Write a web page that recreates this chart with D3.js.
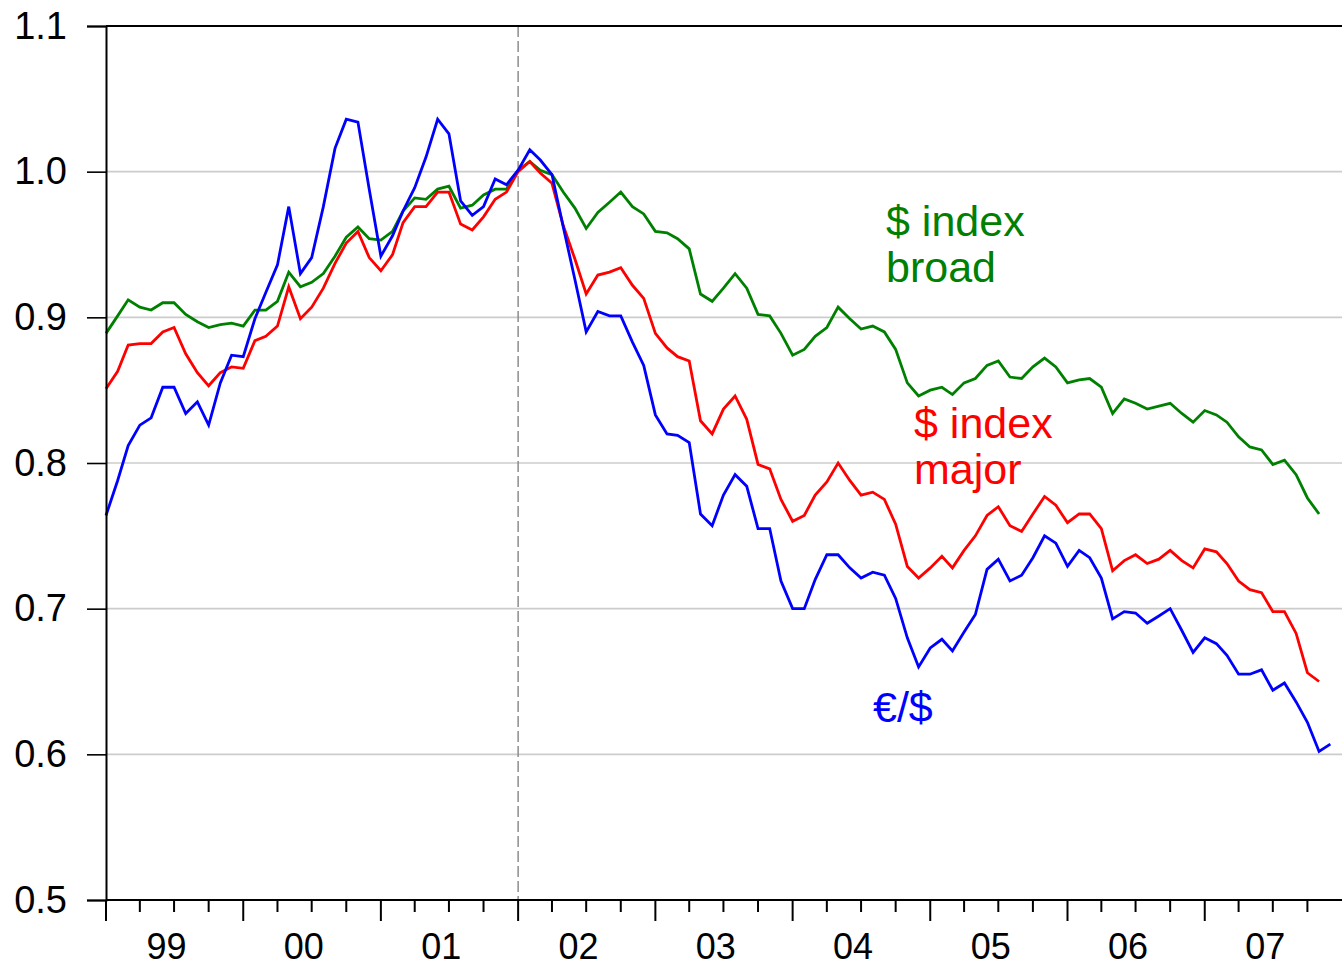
<!DOCTYPE html>
<html>
<head>
<meta charset="utf-8">
<script src="https://cdn.jsdelivr.net/npm/d3@7"></script>
<style>
  body { margin: 0; background: #fff; }
  svg { display: block; font-family: Arial, "Liberation Sans", sans-serif; }
</style>
</head>
<body>
<div id="chart"></div>
<script>
// monthly values, Jan 1999 onwards
const euroDollar = [0.764, 0.788, 0.812, 0.826, 0.831, 0.852, 0.852, 0.834, 0.842, 0.826, 0.855, 0.874,
  0.873, 0.899, 0.917, 0.936, 0.976, 0.930, 0.941, 0.976, 1.016, 1.036, 1.034, 0.988,
  0.942, 0.956, 0.973, 0.989, 1.010, 1.036, 1.026, 0.980, 0.970, 0.976, 0.995, 0.991,
  1.001, 1.015, 1.008, 0.998, 0.962, 0.926, 0.890, 0.904, 0.901, 0.901, 0.883, 0.867,
  0.833, 0.820, 0.819, 0.814, 0.765, 0.757, 0.778, 0.792, 0.784, 0.755, 0.755, 0.719,
  0.700, 0.700, 0.720, 0.737, 0.737, 0.728, 0.721, 0.725, 0.723, 0.707, 0.680, 0.660,
  0.673, 0.679, 0.671, 0.684, 0.696, 0.727, 0.734, 0.719, 0.723, 0.735, 0.750, 0.745,
  0.729, 0.740, 0.735, 0.721, 0.693, 0.698, 0.697, 0.690, 0.695, 0.700, 0.685, 0.670,
  0.680, 0.676, 0.668, 0.655, 0.655, 0.658, 0.644, 0.649, 0.636, 0.622, 0.602, 0.607];

const indexMajor = [0.851, 0.863, 0.881, 0.882, 0.882, 0.890, 0.893, 0.875, 0.862, 0.853, 0.862, 0.866,
  0.865, 0.884, 0.887, 0.894, 0.921, 0.899, 0.907, 0.920, 0.937, 0.951, 0.959, 0.941,
  0.932, 0.943, 0.965, 0.976, 0.976, 0.986, 0.986, 0.964, 0.960, 0.969, 0.981, 0.986,
  1.000, 1.007, 0.999, 0.992, 0.963, 0.940, 0.916, 0.929, 0.931, 0.934, 0.922, 0.913,
  0.889, 0.879, 0.873, 0.870, 0.829, 0.820, 0.837, 0.846, 0.830, 0.799, 0.796, 0.775,
  0.760, 0.764, 0.778, 0.787, 0.800, 0.788, 0.778, 0.780, 0.775, 0.758, 0.729, 0.721,
  0.728, 0.736, 0.728, 0.740, 0.750, 0.764, 0.770, 0.757, 0.753, 0.765, 0.777, 0.771,
  0.759, 0.765, 0.765, 0.755, 0.726, 0.733, 0.737, 0.731, 0.734, 0.740, 0.733, 0.728,
  0.741, 0.739, 0.731, 0.719, 0.713, 0.711, 0.698, 0.698, 0.683, 0.656, 0.650];

const indexBroad = [0.889, 0.901, 0.912, 0.907, 0.905, 0.910, 0.910, 0.902, 0.897, 0.893, 0.895, 0.896,
  0.894, 0.905, 0.905, 0.911, 0.931, 0.921, 0.924, 0.930, 0.942, 0.955, 0.962, 0.954,
  0.953, 0.959, 0.973, 0.982, 0.981, 0.988, 0.990, 0.975, 0.977, 0.984, 0.988, 0.988,
  1.001, 1.007, 1.001, 0.998, 0.986, 0.975, 0.961, 0.972, 0.979, 0.986, 0.976, 0.971,
  0.959, 0.958, 0.954, 0.947, 0.916, 0.911, 0.920, 0.930, 0.920, 0.902, 0.901, 0.889,
  0.874, 0.878, 0.887, 0.893, 0.907, 0.899, 0.892, 0.894, 0.890, 0.878, 0.855, 0.846,
  0.850, 0.852, 0.847, 0.855, 0.858, 0.867, 0.870, 0.859, 0.858, 0.866, 0.872, 0.866,
  0.855, 0.857, 0.858, 0.852, 0.834, 0.844, 0.841, 0.837, 0.839, 0.841, 0.834, 0.828,
  0.836, 0.833, 0.828, 0.818, 0.811, 0.809, 0.799, 0.802, 0.792, 0.776, 0.765];

const years = [1999, 2000, 2001, 2002, 2003, 2004, 2005, 2006, 2007];
const yearLabels = ["99", "00", "01", "02", "03", "04", "05", "06", "07"];
const yTicks = [0.5, 0.6, 0.7, 0.8, 0.9, 1.0, 1.1];
const gridTicks = [0.6, 0.7, 0.8, 0.9, 1.0];
const breakDate = new Date(2002, 0, 1);

const series = [
  { name: "$ index broad", values: indexBroad, color: "#008000" },
  { name: "$ index major", values: indexMajor, color: "#ff0000" },
  { name: "€/$", values: euroDollar, color: "#0000ff" }
];

const W = 1342, H = 967;
const margin = { top: 26, right: 0, bottom: 67, left: 106 };

const svg = d3.select("#chart").append("svg")
  .attr("width", W)
  .attr("height", H);

const x = d3.scaleTime()
  .domain([new Date(1999, 0, 1), new Date(2008, 0, 1)])
  .range([margin.left, W - margin.right]);

const y = d3.scaleLinear()
  .domain([0.5, 1.1])
  .range([H - margin.bottom, margin.top]);

const monthDate = i => new Date(1999, i, 1);

// grid lines
svg.append("g")
  .selectAll("line")
  .data(gridTicks)
  .join("line")
  .attr("x1", margin.left)
  .attr("x2", W)
  .attr("y1", d => y(d))
  .attr("y2", d => y(d))
  .attr("stroke", "#cccccc")
  .attr("stroke-width", 1.6);

// dashed vertical line at 2002
svg.append("line")
  .attr("x1", x(breakDate))
  .attr("x2", x(breakDate))
  .attr("y1", y(1.1))
  .attr("y2", y(0.5))
  .attr("stroke", "#8c8c8c")
  .attr("stroke-width", 1.5)
  .attr("stroke-dasharray", "11,4");

// lines
const line = d3.line()
  .x((d, i) => x(monthDate(i)))
  .y(d => y(d));

svg.append("g")
  .selectAll("path")
  .data(series)
  .join("path")
  .attr("d", d => line(d.values))
  .attr("fill", "none")
  .attr("stroke", d => d.color)
  .attr("stroke-width", 2.8)
  .attr("stroke-linejoin", "miter");

// top frame
svg.append("line")
  .attr("x1", margin.left)
  .attr("x2", W)
  .attr("y1", y(1.1))
  .attr("y2", y(1.1))
  .attr("stroke", "#000")
  .attr("stroke-width", 2);

// y axis
const yAxis = svg.append("g")
  .attr("transform", `translate(${margin.left},0)`)
  .call(d3.axisLeft(y).tickValues(yTicks).tickFormat(d3.format(".1f")).tickSize(19).tickPadding(20));
yAxis.select(".domain").attr("stroke-width", 2);
yAxis.selectAll(".tick line").attr("stroke-width", 1.6);
yAxis.selectAll(".tick text")
  .attr("font-size", 38)
  .attr("font-family", "Arial, 'Liberation Sans', sans-serif")
  .attr("fill", "#000");

// x axis: quarterly minor ticks, yearly major ticks
const quarters = d3.timeMonth.every(3).range(new Date(1999, 0, 1), new Date(2008, 0, 1));
const xAxis = svg.append("g")
  .attr("transform", `translate(0,${y(0.5)})`);
xAxis.append("line")
  .attr("x1", margin.left)
  .attr("x2", W)
  .attr("stroke", "#000")
  .attr("stroke-width", 2);
xAxis.selectAll("line.tick")
  .data(quarters)
  .join("line")
  .attr("class", "tick")
  .attr("x1", d => x(d))
  .attr("x2", d => x(d))
  .attr("y1", 0)
  .attr("y2", d => d.getMonth() === 0 ? 21 : 12)
  .attr("stroke", "#000")
  .attr("stroke-width", 2);

xAxis.selectAll("text")
  .data(years)
  .join("text")
  .attr("x", d => x(new Date(d, 0, 1)) + 60.5)
  .attr("y", 59)
  .attr("text-anchor", "middle")
  .attr("font-size", 36)
  .attr("fill", "#000")
  .text((d, i) => yearLabels[i]);

// series labels
const labels = [
  { lines: ["$ index", "broad"], x: 886, y: 236, color: "#008000" },
  { lines: ["$ index", "major"], x: 914, y: 438, color: "#ff0000" },
  { lines: ["€/$"], x: 873, y: 722, color: "#0000ff" }
];

labels.forEach(l => {
  const t = svg.append("text")
    .attr("x", l.x)
    .attr("y", l.y)
    .attr("font-size", 43)
    .attr("fill", l.color);
  l.lines.forEach((s, i) => {
    t.append("tspan")
      .attr("x", l.x)
      .attr("dy", i === 0 ? 0 : 46)
      .text(s);
  });
});
</script>
</body>
</html>
